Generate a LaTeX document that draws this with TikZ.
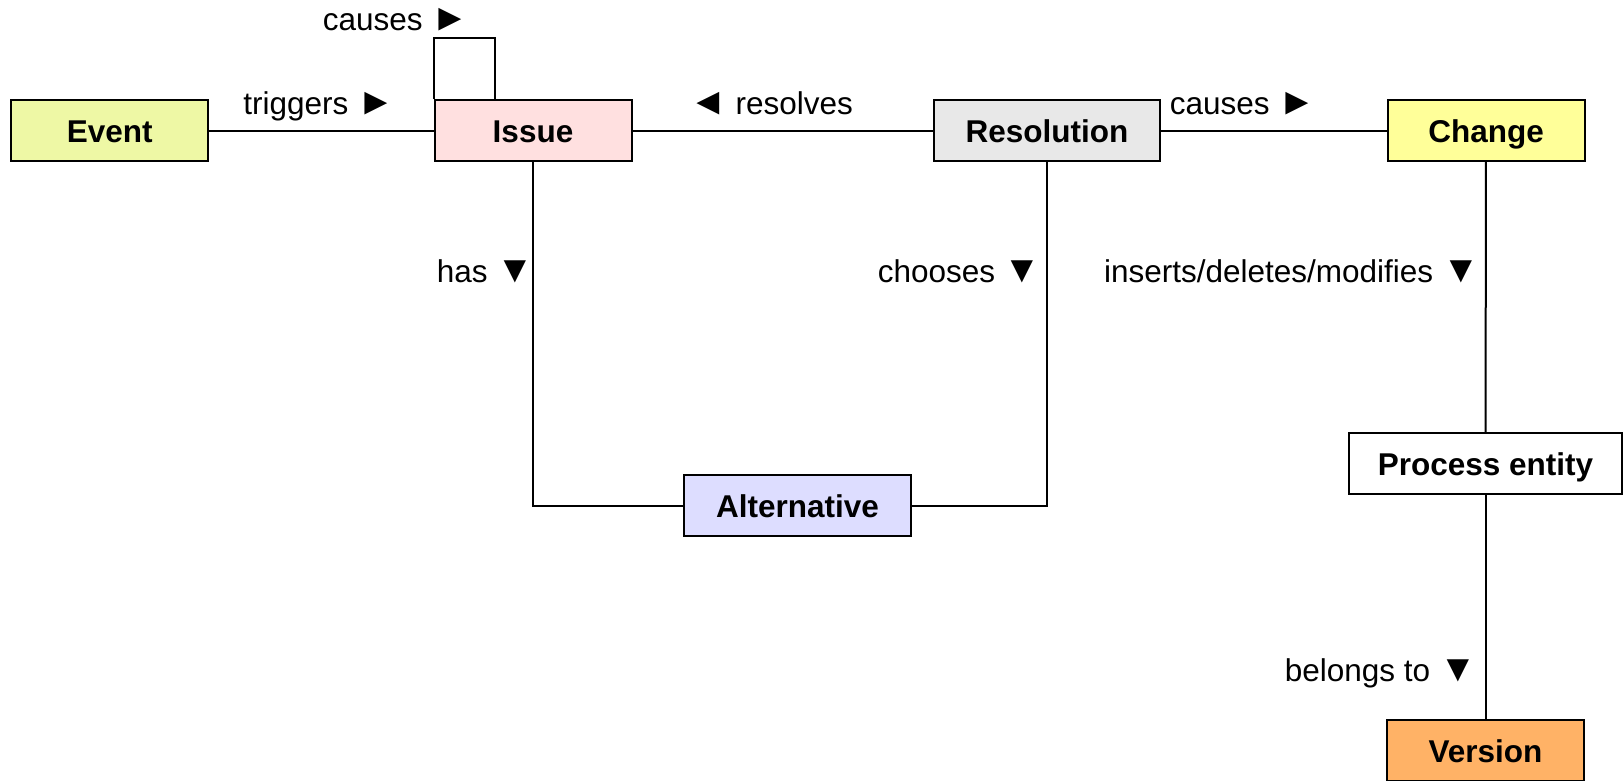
\documentclass[tikz,border=0pt]{standalone}
\usepackage{fontspec}
\setmainfont{Liberation Sans}
\usepackage{tikz}
\usetikzlibrary{positioning}

\definecolor{eventfill}{RGB}{238,248,165}
\definecolor{issuefill}{RGB}{255,224,224}
\definecolor{resfill}{RGB}{232,232,232}
\definecolor{changefill}{RGB}{255,255,153}
\definecolor{altfill}{RGB}{221,221,255}
\definecolor{versionfill}{RGB}{255,178,102}

\newcommand{\reltri}[1]{{\fontsize{19}{19}\selectfont #1}}

\tikzset{
    entity/.style={draw, line width=1pt, minimum width=98.5pt, minimum height=30.5pt,
        inner sep=0pt, text height=11.5pt, text depth=0pt,
        font=\fontsize{15.75}{18}\selectfont\bfseries},
    rel/.style={font=\fontsize{15.75}{18}\selectfont, inner sep=0pt, anchor=base},
    link/.style={line width=1pt}
}

\begin{document}
\begin{tikzpicture}[x=0.5pt, y=-0.5pt]
    \useasboundingbox (0,0) rectangle (1623,781);

    % Draw the entity boxes
    \node[entity, fill=eventfill] (Event) at (109.7,130.7) {Event};
    \node[entity, fill=issuefill] (Issue) at (533,130.7) {Issue};
    \node[entity, fill=resfill, minimum width=113pt] (Resolution) at (1047,130.7) {Resolution};
    \node[entity, fill=changefill] (Change) at (1486,130.7) {Change};
    \node[entity, fill=altfill, minimum width=113.5pt] (Alternative) at (797.5,505.5) {Alternative};
    \node[entity, fill=white, minimum width=136.5pt] (Process) at (1485.5,463.5) {Process entity};
    \node[entity, fill=versionfill] (Version) at (1485.5,750.5) {Version};

    % Connect the boxes
    \draw[link] (Event) -- (Issue);
    \draw[link] (Issue) -- (Resolution);
    \draw[link] (Resolution) -- (Change);
    \draw[link] (Issue.north west) -- ++(0,-61) -- ++(61,0) -- ++(0,61);
    \draw[link] (Issue.south) |- (Alternative.west);
    \draw[link] (Resolution.south) |- (Alternative.east);
    \draw[link] (Change) -- (Process);
    \draw[link] (Process) -- (Version);

    % Label the relations
    \node[rel] (lcauses) at (396,31) {causes \reltri{►}};
    \node[rel] (ltriggers) at (319,115) {triggers \reltri{►}};
    \node[rel] (lresolves) at (771,115) {\reltri{◄} resolves};
    \node[rel] (lcauses2) at (1243,115) {causes \reltri{►}};
    \node[rel, anchor=base east] (lhas) at (534.5,282) {has \reltri{▼}};
    \node[rel, anchor=base east] (lchooses) at (1042,282) {chooses \reltri{▼}};
    \node[rel, anchor=base east] (linserts) at (1480,282) {inserts/deletes/modifies \reltri{▼}};
    \node[rel, anchor=base east] (lbelongs) at (1477,681) {belongs to \reltri{▼}};
\end{tikzpicture}
\end{document}
